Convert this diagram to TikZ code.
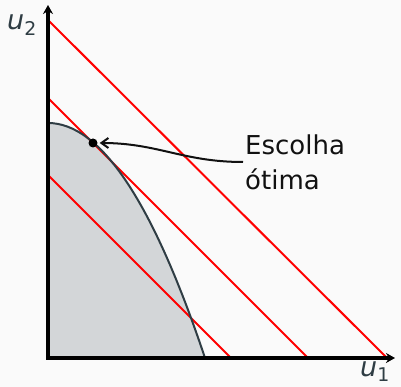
\documentclass[tikz,border=0pt]{standalone}
\usepackage{fontspec}
\setmainfont{DejaVu Sans}
\usepackage{xcolor}
\usetikzlibrary{arrows.meta, positioning}

\definecolor{bgcol}{HTML}{FAFAFA}
\definecolor{slate}{HTML}{2F3D44}
\definecolor{feasgray}{HTML}{D3D6D8}
\definecolor{txtcol}{HTML}{111111}

\begin{document}
\begin{tikzpicture}[
  x=1pt, y=1pt,
  axis/.style={line width=3.2pt, line join=miter, draw=black},
  budget/.style={draw=red, line width=2pt},
  frontier/.style={draw=slate, line width=2pt},
  ulbl/.style={text=slate, font=\fontsize{27}{30}\selectfont, inner sep=0pt},
  lbl/.style={text=txtcol, font=\fontsize{26}{35}\selectfont, align=left,
              inner sep=2pt},
  arr/.style={-{Straight Barb[length=7pt, width=10pt]}, line width=2pt,
              txtcol}
]

% ---- Frame ----
\fill[bgcol] (-48,-29) rectangle (353,358);
\useasboundingbox (-48,-29) rectangle (353,358);

\coordinate (O)    at (0,0);
\coordinate (xtip) at (347,0);
\coordinate (ytip) at (0,353);

% ---- Feasible set ----
\fill[feasgray] (O) -- (0,235) .. controls (52.3,235) and (104.7,156.7) .. (157,0) -- cycle;

% ---- Indifference lines ----
\draw[budget] (0,338) -- (339,0);
\draw[budget] (0,260) -- (260,0);
\draw[budget] (0,183) -- (183,0);

% ---- Frontier ----
\draw[frontier] (0,235) .. controls (52.3,235) and (104.7,156.7) .. (157,0);

% ---- Axes ----
\draw[axis, {Stealth[length=9pt, width=10pt]}-{Stealth[length=9pt, width=10pt]}]
  (ytip) -- (O) -- (xtip);
\node[ulbl] (u2) at (-26,333) {\itshape u\textsubscript{\upshape 2}};
\node[ulbl] (u1) at (327,-14) {\itshape u\textsubscript{\upshape 1}};

% ---- Optimum ----
\node[circle, fill=black, inner sep=0pt, minimum size=9pt] (opt) at (45,215) {};
\node[lbl, anchor=west] (choice) at (195,196) {Escolha\\ótima};
\draw[arr, shorten >=2pt] (choice.west) .. controls +(-60,0) and +(60,0) .. (opt.east);

\end{tikzpicture}
\end{document}
